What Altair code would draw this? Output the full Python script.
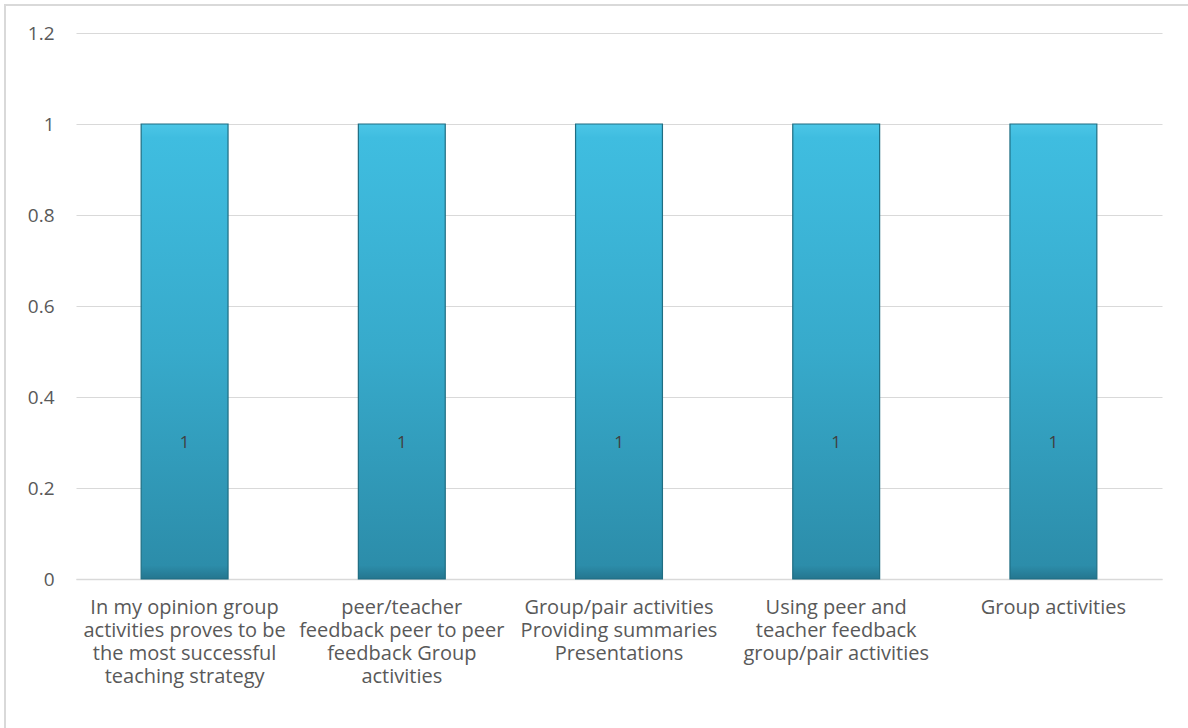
import altair as alt
import pandas as pd

# Category labels, with "|" marking line breaks under each bar
categories = [
    "In my opinion group|activities proves to be|the most successful|teaching strategy",
    "peer/teacher|feedback peer to peer|feedback Group|activities",
    "Group/pair activities|Providing summaries|Presentations",
    "Using peer and|teacher feedback|group/pair activities",
    "Group activities",
]
values = [1, 1, 1, 1, 1]

df = pd.DataFrame({"category": categories, "value": values})

FONT = "Open Sans"
TEXT = "#595959"
GRID = "#D9D9D9"

x = alt.X(
    "category:N",
    sort=None,
    title=None,
    scale=alt.Scale(paddingInner=0.6, paddingOuter=0.3),
    axis=alt.Axis(
        labelExpr="split(datum.label, '|')",
        labelAngle=0,
        labelLimit=300,
        labelFont=FONT,
        labelFontSize=20,
        labelColor=TEXT,
        labelLineHeight=23,
        labelPadding=18,
        labelBaseline="top",
        ticks=False,
        domainColor=GRID,
        domainWidth=1.5,
    ),
)

y = alt.Y(
    "value:Q",
    title=None,
    scale=alt.Scale(domain=[0, 1.2]),
    axis=alt.Axis(
        values=[0, 0.2, 0.4, 0.6, 0.8, 1.0, 1.2],
        format="~g",
        labelFont=FONT,
        labelFontSize=19,
        labelColor=TEXT,
        labelPadding=22,
        ticks=False,
        domain=False,
        gridColor=GRID,
        gridWidth=1,
    ),
)

bars = alt.Chart(df).mark_bar(
    fill=alt.Gradient(
        gradient="linear",
        x1=0, x2=0, y1=0, y2=1,
        stops=[
            alt.GradientStop(offset=0, color="#4CC6E6"),
            alt.GradientStop(offset=0.03, color="#3FBDE0"),
            alt.GradientStop(offset=0.5, color="#37AACB"),
            alt.GradientStop(offset=0.97, color="#2C8DAA"),
            alt.GradientStop(offset=1, color="#24768F"),
        ],
    ),
    stroke="#1F6D82",
    strokeWidth=1.2,
).encode(x=x, y=y)

labels = (
    alt.Chart(df)
    .transform_calculate(label_y="datum.value * 0.3", label_text="toString(datum.value)")
    .mark_text(font=FONT, fontSize=17, color="#404040", baseline="middle")
    .encode(x=alt.X("category:N", sort=None), y=alt.Y("label_y:Q"), text="label_text:N")
)

frame = alt.Chart(df).mark_rect(fill=None, stroke=GRID, strokeWidth=1.5).encode(
    x=alt.value(-71), x2=alt.value(1140), y=alt.value(-28), y2=alt.value(720)
)

chart = (
    alt.layer(frame, bars, labels)
    .properties(
        width=1086,
        height=546,
        autosize=alt.AutoSizeParams(type="none"),
        padding={"left": 76, "top": 33, "right": 26, "bottom": 149},
        background="white",
    )
    .configure_view(stroke=None)
)

chart.save("out.html", embed_options={"renderer": "svg", "actions": False})
